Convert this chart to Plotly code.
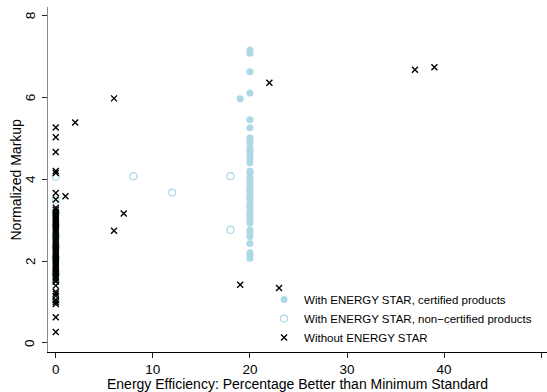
import plotly.graph_objects as go

# --- data ---
cert_x = [20] * 40 + [19]
cert_y = [2.07, 2.15, 2.2, 2.43, 2.6, 2.68, 2.76, 2.93, 3.0, 3.1, 3.15, 3.2, 3.3, 3.35,
          3.4, 3.5, 3.55, 3.6, 3.7, 3.75, 3.8, 3.9, 4.0, 4.05, 4.15, 4.2, 4.4, 4.5,
          4.6, 4.7, 4.75, 4.88, 4.95, 5.0, 5.25, 5.45, 6.1, 6.62, 7.07, 7.15, 5.96]

noncert_x = [0, 0, 0, 0, 0, 0, 0, 0, 0, 0, 8, 12, 18, 18]
noncert_y = [4.06, 3.49, 3.17, 2.88, 2.6, 2.35, 2.07, 1.7, 1.49, 1.0, 4.07, 3.67, 4.07, 2.76]

without_x0_y = [0.27, 0.63, 0.95, 1.0, 1.05, 1.15, 1.2, 1.25, 1.4, 1.5, 1.55, 1.6, 1.65,
                1.7, 1.72, 1.75, 1.8, 1.85, 1.9, 1.95, 2.0, 2.05, 2.1, 2.15, 2.2, 2.25,
                2.3, 2.35, 2.4, 2.45, 2.5, 2.55, 2.6, 2.65, 2.7, 2.75, 2.8, 2.85, 2.9,
                2.95, 3.0, 3.05, 3.1, 3.15, 3.2, 3.25, 3.3, 3.5, 3.66, 4.15, 4.2, 4.66,
                5.02, 5.26]
without_other_x = [1, 2, 6, 7, 6, 19, 22, 23, 37, 39]
without_other_y = [3.58, 5.38, 5.97, 3.16, 2.74, 1.42, 6.35, 1.34, 6.67, 6.73]
without_x = [0] * len(without_x0_y) + without_other_x
without_y = without_x0_y + without_other_y

x_ticks = [0, 10, 20, 30, 40, 50]
y_ticks = [0, 2, 4, 6, 8]
x_title = "Energy Efficiency: Percentage Better than Minimum Standard"
y_title = "Normalized Markup"

BLUE = "#add8e6"
FONT = "Liberation Sans, Arial, sans-serif"

fig = go.Figure()
fig.add_trace(go.Scatter(
    x=cert_x, y=cert_y, mode="markers", name="With ENERGY STAR, certified products",
    marker=dict(symbol="circle", size=7, color=BLUE, line=dict(width=0)),
))
fig.add_trace(go.Scatter(
    x=noncert_x, y=noncert_y, mode="markers", name="With ENERGY STAR, non\u2212certified products",
    marker=dict(symbol="circle-open", size=7, color=BLUE, line=dict(width=1.2, color=BLUE)),
))
fig.add_trace(go.Scatter(
    x=without_x, y=without_y, mode="markers", name="Without ENERGY STAR",
    marker=dict(symbol="x-thin", size=6, color="black", line=dict(width=1.4, color="black")),
))

fig.update_xaxes(
    range=[-0.8, 50.6], tickvals=x_ticks, ticktext=[str(v) for v in x_ticks],
    showgrid=False, zeroline=False, showline=True, linewidth=1.3, linecolor="black",
    ticks="outside", ticklen=5, tickcolor="#222222", tickwidth=1,
    tickfont=dict(family=FONT, size=13.5, color="black"),
    ticklabelstandoff=0, automargin=False,
)
fig.update_yaxes(
    range=[-0.22, 8.2], tickvals=y_ticks, showticklabels=False,
    showgrid=False, zeroline=False, showline=True, linewidth=1.3, linecolor="#888888",
    ticks="outside", ticklen=5, tickcolor="#222222", tickwidth=1, automargin=False,
)

# rotated y tick labels (Stata style), placed on the y scale
for v in y_ticks:
    fig.add_annotation(
        x=0, xref="paper", y=v, yref="y", text=str(v), showarrow=False,
        textangle=-90, xanchor="center", yanchor="middle", xshift=-18,
        font=dict(family=FONT, size=13.5, color="black"),
    )
# axis titles
fig.add_annotation(
    x=0.5, xref="paper", y=0, yref="paper", text=x_title, showarrow=False,
    xanchor="center", yanchor="middle", yshift=-31.5,
    font=dict(family=FONT, size=14, color="black"),
)
fig.add_annotation(
    x=0, xref="paper", y=0.5, yref="paper", text=y_title, showarrow=False,
    textangle=-90, xanchor="center", yanchor="middle", xshift=-33,
    font=dict(family=FONT, size=14, color="black"),
)

fig.update_layout(
    width=547, height=392,
    margin=dict(l=48, r=0, t=7, b=40),
    paper_bgcolor="white", plot_bgcolor="white",
    font=dict(family=FONT, color="black"),
    legend=dict(x=0.433, y=0.194, xanchor="left", yanchor="top",
                bgcolor="rgba(0,0,0,0)", font=dict(family=FONT, size=11.5, color="black"),
                itemwidth=30, tracegroupgap=0),
)
fig.write_html("out.html")
